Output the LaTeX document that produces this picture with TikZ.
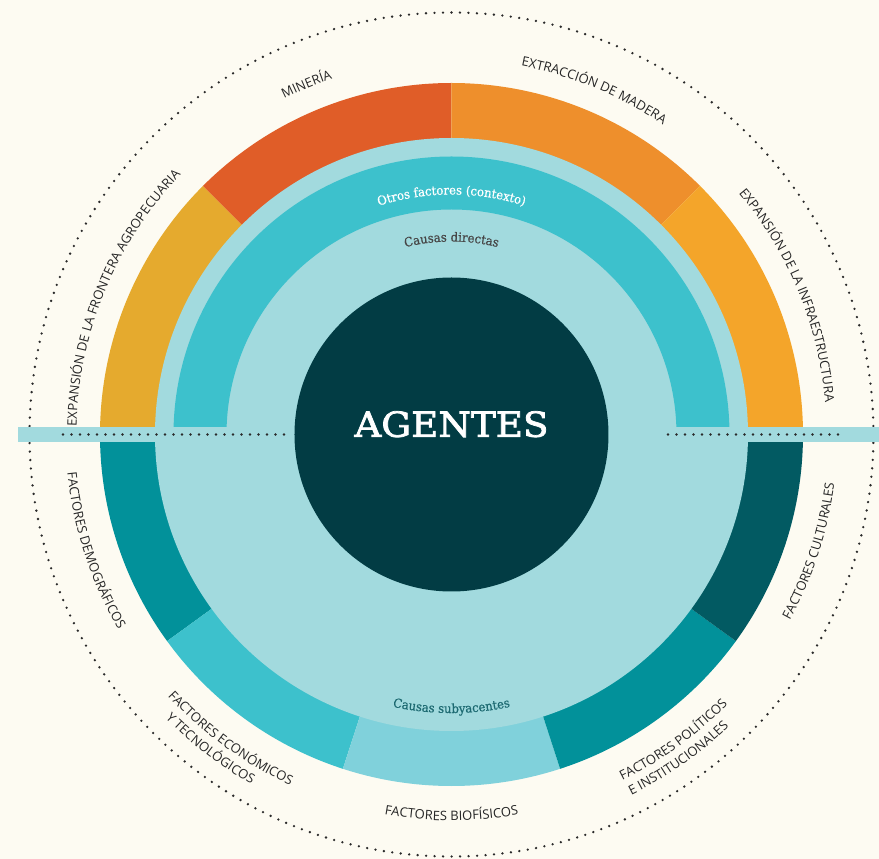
\documentclass[tikz,border=0pt]{standalone}
\usepackage{fontspec}
\setsansfont{Open Sans}
\newfontfamily\slabfont[FakeStretch=0.93,FakeBold=0.6]{DejaVu Serif}
\newfontfamily\agentfont[FakeStretch=1.08,FakeBold=2.2]{DejaVu Serif}
\usetikzlibrary{decorations.text}

\definecolor{paper}{HTML}{FDFBF2}
\definecolor{agroyellow}{HTML}{E5AA2E}
\definecolor{minered}{HTML}{E05D28}
\definecolor{woodorange}{HTML}{EE8F2C}
\definecolor{infrayellow}{HTML}{F4A52A}
\definecolor{softblue}{HTML}{A2DADE}
\definecolor{contextteal}{HTML}{3DC1CC}
\definecolor{agentdark}{HTML}{023C44}
\definecolor{midteal}{HTML}{02919A}
\definecolor{biolight}{HTML}{80D1DB}
\definecolor{cultdark}{HTML}{025A62}
\definecolor{labelgray}{HTML}{262626}
\definecolor{dotgray}{HTML}{2A2A2A}
\definecolor{directgray}{HTML}{474747}
\definecolor{deepteal}{HTML}{1D6A72}

\newcommand{\labelfont}{\sffamily\fontsize{13}{15}\selectfont\color{labelgray}}
\newcommand{\causefont}{\slabfont\fontsize{12.5}{14}\selectfont}

\begin{document}
\begin{tikzpicture}[x=1pt,y=1pt,
  dotline/.style={dotgray,line width=2.6pt,line cap=round,dash pattern=on 0pt off 8.5pt},
  outerlabel/.style={decorate,decoration={text along path,text align=center,text={|\labelfont|#1}}},
  causelabel/.style 2 args={decorate,decoration={text along path,text align=center,text={|\causefont\color{#1}|#2}}}]
  \coordinate (O) at (0,0);
  \fill[paper] (-451.5,-424.5) rectangle (427.5,434.5);
  \useasboundingbox (-451.5,-424.5) rectangle (427.5,434.5);

  \draw[dotline] (O) circle[radius=422];

  \foreach \a/\c in {180/agroyellow,135/minered,90/woodorange,45/infrayellow}
    \fill[\c] (O) -- (\a:351.5) arc[start angle=\a,delta angle=-45,radius=351.5] -- cycle;
  \foreach \a/\c in {180/midteal,216/contextteal,252/biolight,288/midteal,324/cultdark}
    \fill[\c] (O) -- (\a:351.5) arc[start angle=\a,delta angle=36,radius=351.5] -- cycle;

  \fill[softblue] (O) circle[radius=296.5];
  \fill[contextteal] (0:278) arc[start angle=0,end angle=180,radius=278]
    -- (180:225) arc[start angle=180,end angle=0,radius=225] -- cycle;

  \fill[softblue] (-433.5,-7.5) rectangle (427.5,7.5);
  \fill[agentdark] (O) circle[radius=157];
  \coordinate (L1) at (-388.5,0);
  \coordinate (L2) at (-161.5,0);
  \coordinate (R1) at (216.5,0);
  \coordinate (R2) at (388.5,0);
  \draw[dotline] (L1) -- (L2);
  \draw[dotline] (R1) -- (R2);

  \node[text=white,font=\agentfont\fontsize{34.5}{40}\selectfont] (agentes) at (0,10.3) {AGENTES};

  \path[outerlabel=EXPANSIÓN DE LA FRONTERA AGROPECUARIA] (197.5:375) arc[start angle=197.5,end angle=117.5,radius=375];
  \path[outerlabel=MINERÍA] (152.5:375) arc[start angle=152.5,end angle=72.5,radius=375];
  \path[outerlabel=EXTRACCIÓN DE MADERA] (107.5:375) arc[start angle=107.5,end angle=27.5,radius=375];
  \path[outerlabel=EXPANSIÓN DE LA INFRAESTRUCTURA] (62.5:375) arc[start angle=62.5,end angle=-17.5,radius=375];

  \path[outerlabel=FACTORES DEMOGRÁFICOS] (158:386) arc[start angle=158,end angle=238,radius=386];
  \path[outerlabel=FACTORES ECONÓMICOS] (194:386) arc[start angle=194,end angle=274,radius=386];
  \path[outerlabel=Y TECNOLÓGICOS] (192.5:403) arc[start angle=192.5,end angle=272.5,radius=403];
  \path[outerlabel=FACTORES BIOFÍSICOS] (230:386) arc[start angle=230,end angle=310,radius=386];
  \path[outerlabel=FACTORES POLÍTICOS] (266:386) arc[start angle=266,end angle=346,radius=386];
  \path[outerlabel=E INSTITUCIONALES] (265:403) arc[start angle=265,end angle=345,radius=403];
  \path[outerlabel=FACTORES CULTURALES] (302:386) arc[start angle=302,end angle=382,radius=386];

  \path[causelabel={white}{Otros factores (contexto)}] (150:240) arc[start angle=150,end angle=30,radius=240];
  \path[causelabel={directgray}{Causas directas}] (140:193) arc[start angle=140,end angle=40,radius=193];
  \path[causelabel={deepteal}{Causas subyacentes}] (220:278.5) arc[start angle=220,end angle=320,radius=278.5];
\end{tikzpicture}
\end{document}
